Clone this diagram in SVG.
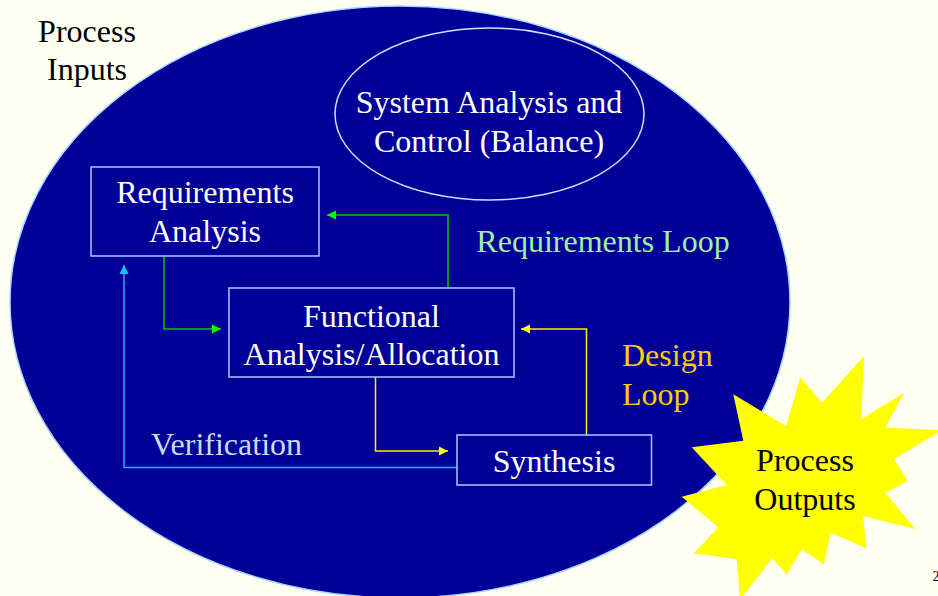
<svg xmlns="http://www.w3.org/2000/svg" width="938" height="596" viewBox="0 0 938 596" font-family="'Liberation Serif', 'DejaVu Serif', 'Times New Roman', serif">
<style>
  text { font-family: 'Liberation Serif', 'DejaVu Serif', 'Times New Roman', serif; font-size: 32px; text-anchor: middle; }
  .box { fill: #000099; stroke: #A8C8FF; stroke-width: 1.5; }
  .wt { fill: #FFFFFF; }
  .bk { fill: #000000; }
  .g { fill: none; stroke: #00C800; stroke-width: 1.5; }
  .y { fill: none; stroke: #FFF000; stroke-width: 1.5; }
  .c { fill: none; stroke: #2FA8FF; stroke-width: 1.5; }
</style>
<defs>
  <marker id="ag" viewBox="0 0 10 10" refX="10" refY="5" markerWidth="9" markerHeight="11" markerUnits="userSpaceOnUse" orient="auto"><path d="M0,0 L10,5 L0,10 Z" fill="#00FF00"/></marker>
  <marker id="ay" viewBox="0 0 10 10" refX="10" refY="5" markerWidth="9" markerHeight="11" markerUnits="userSpaceOnUse" orient="auto"><path d="M0,0 L10,5 L0,10 Z" fill="#FFFF00"/></marker>
  <marker id="ac" viewBox="0 0 10 10" refX="10" refY="5" markerWidth="9" markerHeight="11" markerUnits="userSpaceOnUse" orient="auto"><path d="M0,0 L10,5 L0,10 Z" fill="#00CCFF"/></marker>
</defs>
<rect x="0" y="0" width="938" height="596" fill="#FFFFF2"/>
<g id="process">
  <ellipse cx="400" cy="302" rx="390" ry="296" fill="#000099" stroke="#A8D8FF" stroke-width="1.5"/>
</g>
<g id="process-inputs">
  <text class="bk" x="87" y="42">Process</text>
  <text class="bk" x="87" y="80">Inputs</text>
</g>
<g id="system-analysis">
  <ellipse cx="489.5" cy="114" rx="154.5" ry="86" fill="#000099" stroke="#D0E0FF" stroke-width="1.5"/>
  <text class="wt" x="489" y="113">System Analysis and</text>
  <text class="wt" x="489" y="152">Control (Balance)</text>
</g>
<g id="connectors">
  <polyline class="g" points="164,256 164,329 221,329" marker-end="url(#ag)"/>
  <polyline class="g" points="448,288 448,215 327,215" marker-end="url(#ag)"/>
  <polyline class="y" points="375.5,377 375.5,451 448,451" marker-end="url(#ay)"/>
  <polyline class="y" points="586.5,435 586.5,329 521,329" marker-end="url(#ay)"/>
  <polyline class="c" points="457,467.5 124,467.5 124,265" marker-end="url(#ac)"/>
</g>
<g id="requirements-analysis">
  <rect class="box" x="91" y="167" width="228" height="89"/>
  <text class="wt" x="205" y="203">Requirements</text>
  <text class="wt" x="205" y="242">Analysis</text>
</g>
<g id="functional-analysis">
  <rect class="box" x="229" y="288" width="285" height="89"/>
  <text class="wt" x="371.5" y="327">Functional</text>
  <text class="wt" x="371.5" y="365">Analysis/Allocation</text>
</g>
<g id="synthesis">
  <rect class="box" x="457" y="435" width="194.5" height="50"/>
  <text class="wt" x="554" y="472">Synthesis</text>
</g>
<g id="labels">
  <text x="603" y="252" fill="#A0F0A0">Requirements Loop</text>
  <text x="622" y="366" fill="#FFCC00" style="text-anchor:start">Design</text>
  <text x="622" y="405" fill="#FFCC00" style="text-anchor:start">Loop</text>
  <text x="151" y="455" fill="#C8DCFF" style="text-anchor:start">Verification</text>
</g>
<g id="process-outputs">
  <polygon fill="#FFFF00" points="733.3,394.3 786,426 800.3,377.3 822,402.7 864,356 861.3,419.3 904,392.7 885.3,427.7 942,430 894,459.3 908,481 885.3,492.7 915.3,529 863,516 866.3,548.3 830.7,532.7 824,564.3 801.7,549.3 786.7,574.3 772.3,558.3 740,600 736.7,559.3 694,553.3 718.3,527.3 681.7,496.7 726.7,485 691.7,447.3 743.3,440.7"/>
  <text class="bk" x="805" y="471">Process</text>
  <text class="bk" x="805" y="510">Outputs</text>
</g>
<text x="936" y="581" style="font-size:14px" fill="#000000">2</text>
</svg>
